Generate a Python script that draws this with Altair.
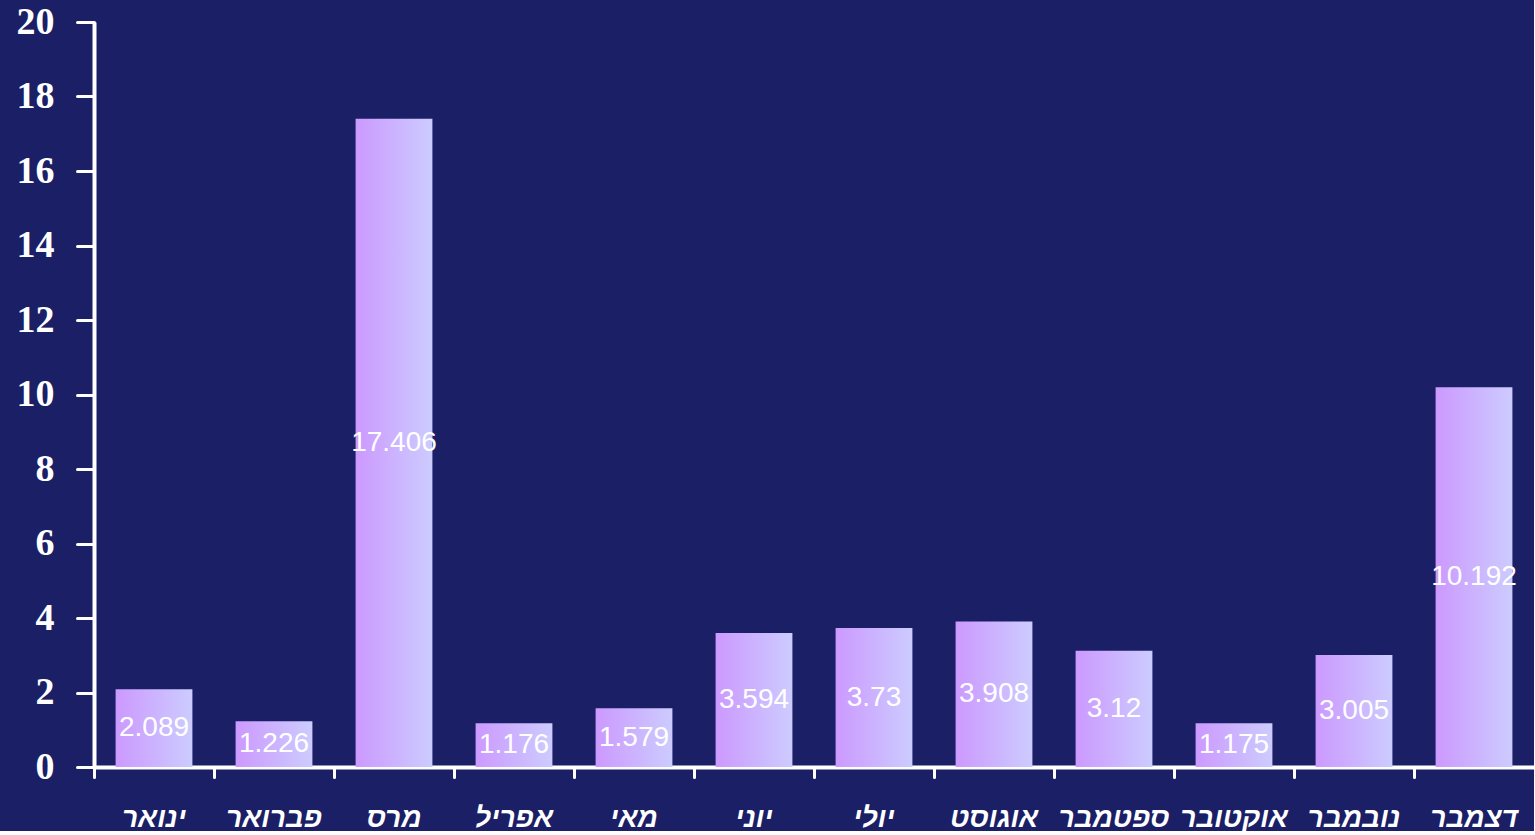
import altair as alt
import pandas as pd

months = ["ינואר", "פברואר", "מרס", "אפריל", "מאי", "יוני",
          "יולי", "אוגוסט", "ספטמבר", "אוקטובר", "נובמבר", "דצמבר"]
values = [2.089, 1.226, 17.406, 1.176, 1.579, 3.594,
          3.73, 3.908, 3.12, 1.175, 3.005, 10.192]
labels = [str(v) for v in values]
y_ticks = list(range(0, 21, 2))

df = pd.DataFrame({"month": months, "value": values, "label": labels})

BG = "#1b1f66"

x_enc = alt.X(
    "month:N",
    sort=months,
    scale=alt.Scale(paddingInner=0, paddingOuter=0),
    axis=alt.Axis(
        title=None, labelAngle=0, bandPosition=0,
        tickSize=10, tickWidth=3, tickColor="white", tickCap="round",
        domainWidth=4, domainColor="white",
        labelColor="white", labelFont="Liberation Sans", labelFontSize=28,
        labelFontStyle="italic", labelFontWeight="bold", labelPadding=27,
    ),
)

gradient = alt.Gradient(
    gradient="linear",
    stops=[alt.GradientStop(color="#cc99ff", offset=0),
           alt.GradientStop(color="#ccccff", offset=1)],
    x1=0, x2=1, y1=0, y2=0,
)

bars = alt.Chart(df).mark_bar(color=gradient, width=alt.RelativeBandSize(0.64)).encode(
    x=x_enc,
    y=alt.Y(
        "value:Q",
        scale=alt.Scale(domain=[0, 20], nice=False),
        axis=alt.Axis(
            title=None, values=y_ticks, grid=False,
            tickSize=17, tickWidth=3, tickColor="white", tickCap="round",
            domainWidth=4, domainColor="white",
            labelColor="white", labelFont="Liberation Serif", labelFontSize=38,
            labelFontWeight="bold", labelPadding=23,
        ),
    ),
)

text = alt.Chart(df).transform_calculate(mid="datum.value / 2").mark_text(
    color="white", font="Liberation Sans", fontSize=28, baseline="middle", align="center"
).encode(
    x=alt.X("month:N", sort=months),
    y=alt.Y("mid:Q"),
    text="label:N",
)

chart = alt.layer(bars, text).properties(
    width=1440, height=745,
    background=BG,
    autosize=alt.AutoSizeParams(type="none"),
    padding={"left": 94, "top": 22, "right": 0, "bottom": 64},
).configure_view(stroke=None)

chart.save("out.html", embed_options={"renderer": "svg", "actions": False})
